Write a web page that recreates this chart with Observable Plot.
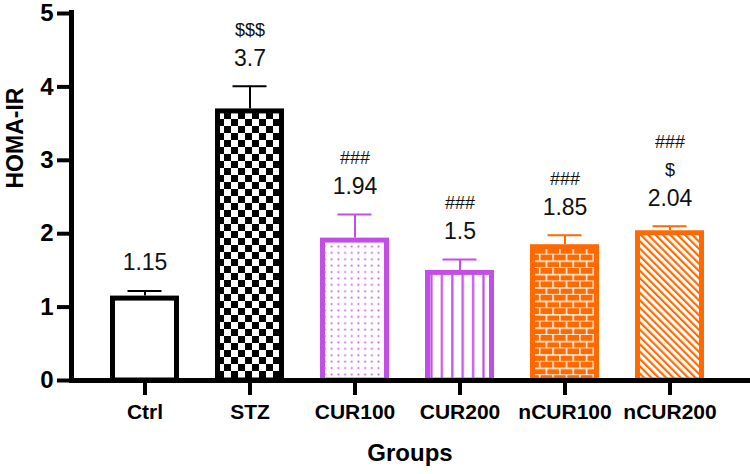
<!DOCTYPE html>
<html>
<head>
<meta charset="utf-8">
<script src="https://cdn.jsdelivr.net/npm/d3@7"></script>
<script src="https://cdn.jsdelivr.net/npm/@observablehq/plot@0.6"></script>
<style>
  html, body { margin: 0; padding: 0; background: #fff; }
</style>
</head>
<body>
<div id="chart"></div>
<script>
// ---- data ----
const groups = ["Ctrl", "STZ", "CUR100", "CUR200", "nCUR100", "nCUR200"];
const means = [1.15, 3.7, 1.94, 1.5, 1.85, 2.04];
const errors = [0.07, 0.31, 0.32, 0.15, 0.13, 0.06];
const sigNear = ["", "$$$", "###", "###", "###", "$"];
const sigFar = ["", "", "", "", "", "###"];
const yTicks = [0, 1, 2, 3, 4, 5];

// ---- styling ----
const PURPLE = "#c24ee8";
const ORANGE = "#ff6a00";
const strokes = ["#000000", "#000000", PURPLE, PURPLE, ORANGE, ORANGE];
const patterns = ["pWhite", "pChecker", "pDots", "pVLines", "pBricks", "pDiag"];

const data = groups.map((g, i) => ({
  group: g,
  mean: means[i],
  top: means[i] + errors[i],
  label: String(means[i]),
  s1: sigNear[i],
  s2: sigFar[i],
  stroke: strokes[i],
  fill: `url(#${patterns[i]})`
}));

const FONT = "'Liberation Sans', Arial, Helvetica, sans-serif";

const svg = Plot.plot({
  width: 750,
  height: 474,
  marginLeft: 71,
  marginRight: 2,
  marginTop: 12,
  marginBottom: 94,
  style: { fontFamily: FONT, background: "#fff", color: "#000" },
  x: { domain: groups, range: [71, 743], padding: 0.34 },
  y: { domain: [0, 5], range: [380, 13] },
  color: { type: "identity" },
  marks: [
    Plot.barY(data, {
      x: "group", y: "mean",
      fill: "fill", stroke: "stroke", strokeWidth: 5,
      insetLeft: 2.5, insetRight: 2.5, insetTop: 2.5
    }),
    Plot.ruleX(data, { x: "group", y1: "mean", y2: "top", stroke: "stroke", strokeWidth: 2 }),
    Plot.tickY(data, { x: "group", y: "top", stroke: "stroke", strokeWidth: 2, insetLeft: 17.5, insetRight: 17.5 }),
    Plot.text(data, { x: "group", y: "top", text: "label", dy: -28, fontSize: 23, fill: "#111" }),
    Plot.text(data, { x: "group", y: "top", text: "s1", dy: -56, fontSize: 18, fill: "#111" }),
    Plot.text(data, { x: "group", y: "top", text: "s2", dy: -84, fontSize: 18, fill: "#111" }),
    Plot.frame({ anchor: "left", strokeWidth: 5, stroke: "#000", strokeLinecap: "square" }),
    Plot.frame({ anchor: "bottom", strokeWidth: 5, stroke: "#000" }),
    Plot.axisY({
      ticks: yTicks, tickFormat: d => String(d), tickSize: 14, tickPadding: 4,
      strokeWidth: 4, fontSize: 24, fontWeight: "bold", label: null
    }),
    Plot.axisX({
      tickSize: 15, tickPadding: 9, strokeWidth: 4, fontSize: 21,
      fontWeight: "bold", label: null
    }),
    Plot.text(["HOMA-IR"], { frameAnchor: "left", rotate: -90, dx: -56, dy: -8, fontSize: 23, fontWeight: "bold" }),
    Plot.text(["Groups"], { frameAnchor: "bottom", dy: 80, fontSize: 24, fontWeight: "bold" })
  ]
});

// pattern definitions for the bar fills
const NS = "http://www.w3.org/2000/svg";
const defs = document.createElementNS(NS, "defs");
defs.innerHTML = `
  <pattern id="pWhite" patternUnits="userSpaceOnUse" width="10" height="10">
    <rect width="10" height="10" fill="#fff"/>
  </pattern>
  <pattern id="pChecker" patternUnits="userSpaceOnUse" width="14" height="14">
    <rect width="14" height="14" fill="#fff"/>
    <rect x="0" y="0" width="7" height="7" fill="#000"/>
    <rect x="7" y="7" width="7" height="7" fill="#000"/>
  </pattern>
  <pattern id="pDots" patternUnits="userSpaceOnUse" width="6.7" height="6.4">
    <rect width="6.7" height="6.4" fill="#fff"/>
    <rect x="2.5" y="2.4" width="1.7" height="1.7" fill="${PURPLE}"/>
  </pattern>
  <pattern id="pVLines" patternUnits="userSpaceOnUse" width="10.4" height="10">
    <rect width="10.4" height="10" fill="#fff"/>
    <rect x="4" y="0" width="2.2" height="10" fill="${PURPLE}"/>
  </pattern>
  <pattern id="pBricks" patternUnits="userSpaceOnUse" width="13.4" height="13.4">
    <rect width="13.4" height="13.4" fill="${ORANGE}"/>
    <rect x="0" y="5.9" width="13.4" height="1.4" fill="#fff"/>
    <rect x="0" y="12.6" width="13.4" height="1.4" fill="#fff"/>
    <rect x="3" y="0" width="1.4" height="6" fill="#fff"/>
    <rect x="9.7" y="6.7" width="1.4" height="6.7" fill="#fff"/>
  </pattern>
  <pattern id="pDiag" patternUnits="userSpaceOnUse" width="5.2" height="10" patternTransform="rotate(-45)">
    <rect width="5.2" height="10" fill="#fff"/>
    <rect x="0" y="0" width="2.2" height="10" fill="${ORANGE}"/>
  </pattern>
`;
svg.insertBefore(defs, svg.firstChild);

document.getElementById("chart").appendChild(svg);
</script>
</body>
</html>
